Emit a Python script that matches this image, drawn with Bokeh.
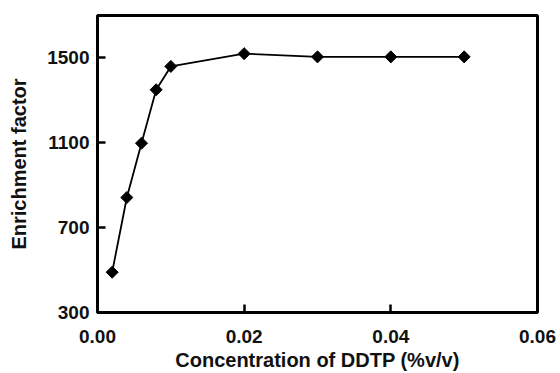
from bokeh.plotting import figure
from bokeh.models import Range1d, FixedTicker, ColumnDataSource
from bokeh.embed import file_html
from bokeh.resources import INLINE

# Data
concentration = [0.002, 0.004, 0.006, 0.008, 0.010, 0.020, 0.030, 0.040, 0.050]
enrichment = [490, 842, 1098, 1350, 1460, 1520, 1505, 1505, 1505]
x_ticks = [0.0, 0.02, 0.04, 0.06]
y_ticks = [300, 700, 1100, 1500]

src = ColumnDataSource(dict(x=concentration, y=enrichment))

p = figure(width=560, height=373, output_backend="svg", toolbar_location=None,
           x_range=Range1d(0, 0.06), y_range=Range1d(300, 1700),
           min_border_left=97, min_border_right=23, min_border_top=15, min_border_bottom=60)

p.grid.visible = False
p.outline_line_color = "black"
p.outline_line_width = 3
p.background_fill_color = "white"
p.border_fill_color = "white"

p.line("x", "y", source=src, line_color="black", line_width=1.8)
p.scatter("x", "y", source=src, marker="square", angle=0.785398, size=8.5,
          fill_color="black", line_color="black")

for ax in (p.xaxis[0], p.yaxis[0]):
    ax.axis_line_width = 3
    ax.axis_line_color = "black"
    ax.major_tick_in = 8
    ax.major_tick_out = 0
    ax.major_tick_line_width = 2.5
    ax.minor_tick_line_color = None
    ax.major_label_text_font = "Liberation Sans"
    ax.major_label_text_font_style = "bold"
    ax.major_label_text_font_size = "19px"
    ax.major_label_text_color = "#111111"
    ax.axis_label_text_font = "Liberation Sans"
    ax.axis_label_text_font_style = "bold"
    ax.axis_label_text_font_size = "20px"
    ax.axis_label_text_color = "#111111"

p.xaxis.ticker = FixedTicker(ticks=x_ticks)
p.yaxis.ticker = FixedTicker(ticks=y_ticks)
p.xaxis.major_label_overrides = {0.0: "0.00", 0.02: "0.02", 0.04: "0.04", 0.06: "0.06"}
p.xaxis.axis_label = "Concentration of DDTP (%v/v)"
p.yaxis.axis_label = "Enrichment factor"
p.xaxis.major_label_standoff = 17
p.xaxis.axis_label_standoff = 3
p.yaxis.major_label_standoff = 8
p.yaxis.axis_label_standoff = 14

open("out.html", "w").write(file_html(p, INLINE))
